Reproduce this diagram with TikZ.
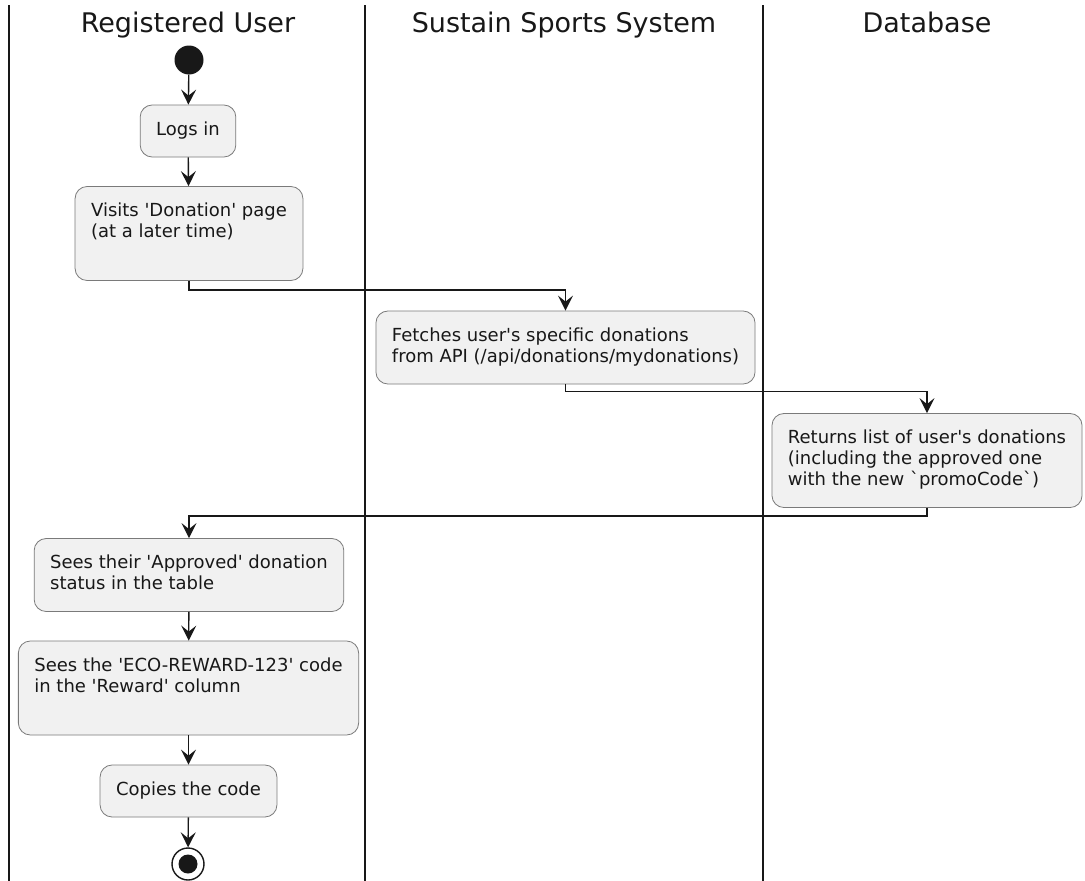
\documentclass[tikz,border=0pt]{standalone}
\usepackage{fontspec}
\setmainfont{DejaVu Sans}
\usetikzlibrary{arrows.meta}
\definecolor{actfill}{HTML}{F1F1F1}
\definecolor{ink}{HTML}{181818}
\definecolor{actborder}{HTML}{7A7A7A}
\newcommand\actfont{\fontsize{18}{21}\selectfont}
\newcommand\lanefont{\fontsize{27}{32}\selectfont}
\newcommand\q{\textquotesingle}
\newcommand\bq{\textasciigrave}
\tikzset{
  x=1pt, y=-1pt,
  act/.style={draw=actborder, line width=0.8pt, fill=actfill, rounded corners=12pt,
    align=left, font=\actfont, inner xsep=16pt, inner ysep=15.5pt, text=ink},
  lane/.style={draw=ink, line width=1.8pt},
  lanetitle/.style={font=\lanefont, text=ink, anchor=base, inner sep=0pt},
  flow/.style={draw=ink, line width=1.4pt, -{Stealth[length=15pt,width=15pt,inset=6pt]}},
  startdot/.style={circle, fill=ink, minimum size=29pt, inner sep=0pt},
  stopring/.style={circle, draw=ink, line width=1.4pt, fill=white, minimum size=32pt, inner sep=0pt},
  stopdot/.style={circle, fill=ink, minimum size=19pt, inner sep=0pt},
}
\begin{document}
\begin{tikzpicture}
\useasboundingbox (0,0) rectangle (1085,881);
\fill[white] (0,0) rectangle (1085,881);

% swimlane separators
\coordinate (l1t) at (9,5);   \coordinate (l1b) at (9,881);
\coordinate (l2t) at (365,5); \coordinate (l2b) at (365,881);
\coordinate (l3t) at (763,5); \coordinate (l3b) at (763,881);
\draw[lane] (l1t) -- (l1b);
\draw[lane] (l2t) -- (l2b);
\draw[lane] (l3t) -- (l3b);

% lane titles
\node[lanetitle] (t1) at (188,32) {Registered User};
\node[lanetitle] (t2) at (564,32) {Sustain Sports System};
\node[lanetitle] (t3) at (927,32) {Database};

% activities
\node[startdot] (start) at (189,60) {};
\node[act] (logs) at (188,131) {\strut Logs in\strut};
\node[act] (visits) at (189,233.5) {\strut Visits \q Donation\q{} page\\(at a later time)\\\strut};
\node[act] (fetch) at (565.5,347.5) {\strut Fetches user\q s specific donations\\from API (/api/donations/mydonations)\strut};
\node[act] (returns) at (927,460.5) {\strut Returns list of user\q s donations\\(including the approved one\\with the new \bq promoCode\bq)\strut};
\node[act] (approved) at (189,575) {\strut Sees their \q Approved\q{} donation\\status in the table\strut};
\node[act] (eco) at (188.5,688) {\strut Sees the \q ECO-REWARD-123\q{} code\\in the \q Reward\q{} column\\\strut};
\node[act] (copies) at (188.5,791) {\strut Copies the code\strut};
\node[stopring] (stop) at (188,864) {};
\node[stopdot] (stopin) at (188,864) {};

% control flow
\draw[flow] (start) -- (logs);
\draw[flow] (logs) -- (visits);
\draw[flow] (visits.south) -- ++(0,9) -| (fetch.north);
\draw[flow] (fetch.south) -- ++(0,7) -| (returns.north);
\draw[flow] (returns.south) -- ++(0,8) -| (approved.north);
\draw[flow] (approved) -- (eco);
\draw[flow] (eco) -- (copies);
\draw[flow] (copies) -- (stop);
\end{tikzpicture}
\end{document}
